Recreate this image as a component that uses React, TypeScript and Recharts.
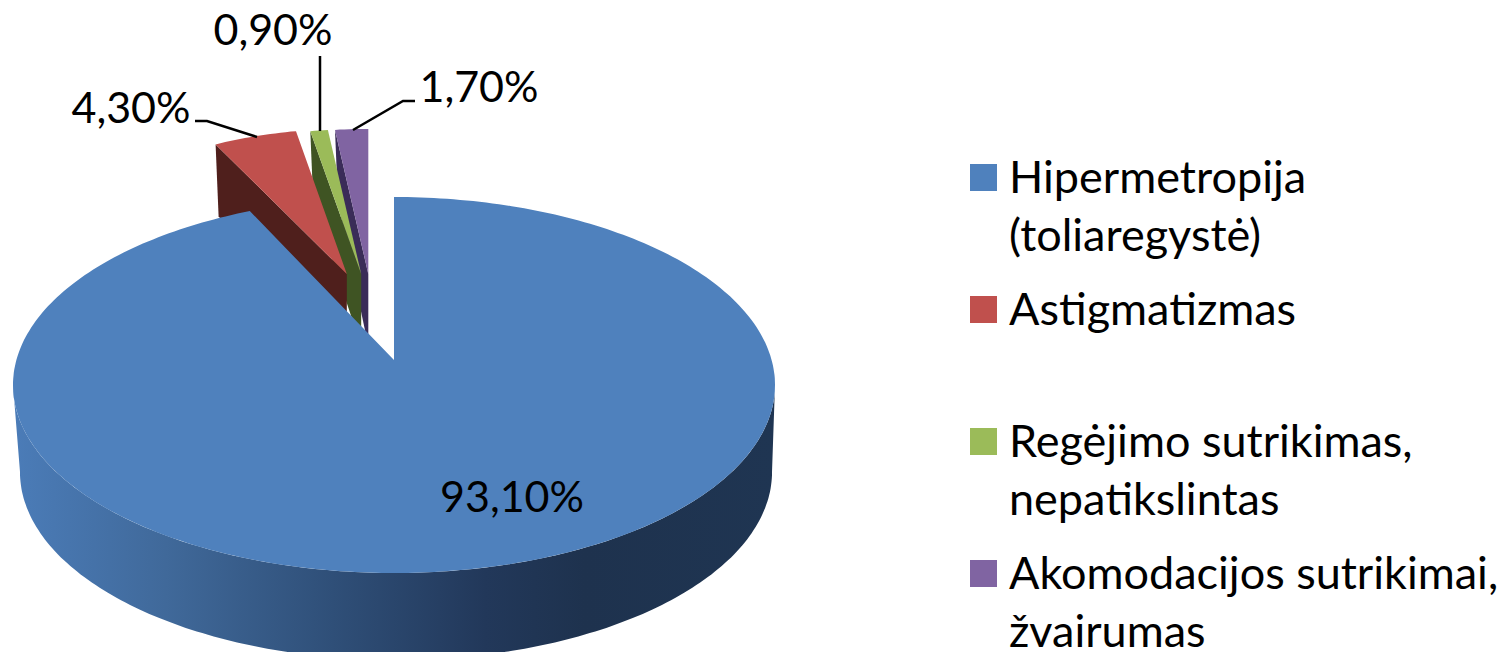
import { PieChart, Pie, Legend } from 'recharts';

const categories = [
  'Hipermetropija\n(toliaregystė)',
  'Astigmatizmas',
  'Regėjimo sutrikimas,\nnepatikslintas',
  'Akomodacijos sutrikimai,\nžvairumas',
];
const values = [93.1, 4.3, 0.9, 1.7];
const valueLabels = ['93,10%', '4,30%', '0,90%', '1,70%'];
const colors = ['#4F81BD', '#C0504D', '#9BBB59', '#8064A2'];
const wallColors = ['#1F3552', '#4F1F1C', '#3F5423', '#3A2C58'];

// painted back to front, the big slice has to end up over the pulled out ones
const pieData = categories
  .map((name, i) => ({ name, value: values[i], label: valueLabels[i], fill: colors[i], wall: wallColors[i] }))
  .reverse();

const FONT = 'Lato, sans-serif';
const SQUASH = 188 / 381;
const LIFT = 25 / 381;
const DEPTH = 87;
const FAR_DEPTH = 72;

function rim(cx: number, cy: number, r: number, deg: number): [number, number] {
  const a = (deg * Math.PI) / 180;
  return [cx + r * Math.sin(a), cy + r * (LIFT - SQUASH * Math.cos(a))];
}

function arcPoints(from: number, to: number, at: (deg: number) => [number, number]) {
  const steps = Math.max(2, Math.ceil(Math.abs(to - from)));
  const pts: [number, number][] = [];
  for (let i = 0; i <= steps; i++) pts.push(at(from + ((to - from) * i) / steps));
  return pts;
}

const toPath = (pts: [number, number][]) => 'M' + pts.map((p) => `${p[0].toFixed(1)},${p[1].toFixed(1)}`).join('L') + 'Z';

function Slice3D(props: any) {
  const { cx, cy, outerRadius, startAngle, endAngle, percent, fill, payload } = props;
  const from = 90 - startAngle;
  const to = 90 - endAngle;

  if (percent > 0.5) {
    // the back of the disc looks narrower in perspective, so ease the near edge a little
    const top = arcPoints(from * 0.895, to, (d) => rim(cx, cy, outerRadius, d));
    const wallTop = arcPoints(-90, -270, (d) => rim(cx, cy, outerRadius, d));
    const wallBottom = arcPoints(-270, -90, (d) => {
      const p = rim(cx, cy, outerRadius, d);
      return [cx + 2 + (p[0] - cx) * 0.987, p[1] + DEPTH];
    });
    return (
      <g>
        <defs>
          <linearGradient id="wallShade" gradientUnits="userSpaceOnUse" x1={cx - outerRadius} x2={cx + outerRadius} y1="0" y2="0">
            <stop offset="0" stopColor="#4B7CB8" />
            <stop offset="0.2" stopColor="#40699A" />
            <stop offset="0.42" stopColor="#2F4F78" />
            <stop offset="0.62" stopColor="#22385A" />
            <stop offset="0.75" stopColor="#1E324E" />
            <stop offset="1" stopColor="#1F3552" />
          </linearGradient>
        </defs>
        <path d={toPath([...wallTop, ...wallBottom])} fill="url(#wallShade)" />
        <path d={toPath([[cx, cy], ...top])} fill={fill} />
      </g>
    );
  }

  // pulled out slices sit further back, so they come out a bit smaller
  const mid = (from + to) / 2;
  const ax = cx - 21 + 1.53 * mid;
  const ay = cy - 86;
  const at = (d: number): [number, number] => {
    const p = rim(0, 0, outerRadius, d);
    return [ax + p[0] * 0.82, ay + p[1] * 0.89];
  };
  const top = arcPoints(from, to, at);
  const edge = at(Math.min(from, to));
  const wall: [number, number][] = [
    [ax, ay],
    edge,
    [edge[0] + 3, edge[1] + FAR_DEPTH],
    [ax, ay + FAR_DEPTH],
  ];
  return (
    <g>
      <path d={toPath(wall)} fill={payload.wall} />
      <path d={toPath([[ax, ay], ...top])} fill={fill} />
    </g>
  );
}

const labelSpots: Record<string, { x: number; y: number; leader?: string }> = {
  '93,10%': { x: 512, y: 512 },
  '4,30%': { x: 131, y: 123, leader: '195,121 207,121 257,137' },
  '0,90%': { x: 273, y: 45, leader: '320,56 320,131' },
  '1,70%': { x: 479, y: 102, leader: '353,130 403,101 415,101' },
};

function SliceLabel(props: any) {
  const spot = labelSpots[props.payload.label];
  return (
    <g>
      {spot.leader && <polyline points={spot.leader} fill="none" stroke="#000" strokeWidth={2.5} />}
      <text x={spot.x} y={spot.y} textAnchor="middle" fontFamily={FONT} fontSize={43} fill="#000">
        {props.payload.label}
      </text>
    </g>
  );
}

function LegendBlock({ payload }: any) {
  const ordered = [...(payload || [])].sort((a: any, b: any) => categories.indexOf(a.value) - categories.indexOf(b.value));
  return (
    <div style={{ fontFamily: FONT, fontSize: 45, lineHeight: '58px', color: '#000' }}>
      {ordered.map((item: any) => (
        <div key={item.value} style={{ position: 'relative', height: 132, paddingLeft: 39, whiteSpace: 'pre' }}>
          <span style={{ position: 'absolute', left: 0, top: 17, width: 27, height: 27, background: item.color }} />
          {item.value}
        </div>
      ))}
    </div>
  );
}

export default function App() {
  return (
    <div style={{ position: 'absolute', left: 0, top: 0, width: 1508, height: 652, overflow: 'hidden', background: '#fff' }}>
      <PieChart width={1508} height={652} margin={{ top: 0, right: 0, bottom: 0, left: 0 }}>
        <Pie
          data={pieData}
          dataKey="value"
          nameKey="name"
          cx={394}
          cy={360}
          outerRadius={381}
          startAngle={90}
          endAngle={450}
          stroke="none"
          shape={Slice3D}
          label={SliceLabel}
          labelLine={false}
          isAnimationActive={false}
        />
        <Legend
          layout="vertical"
          content={<LegendBlock />}
          wrapperStyle={{ position: 'absolute', left: 970, top: 147, width: 538, bottom: 'auto' }}
        />
      </PieChart>
    </div>
  );
}
